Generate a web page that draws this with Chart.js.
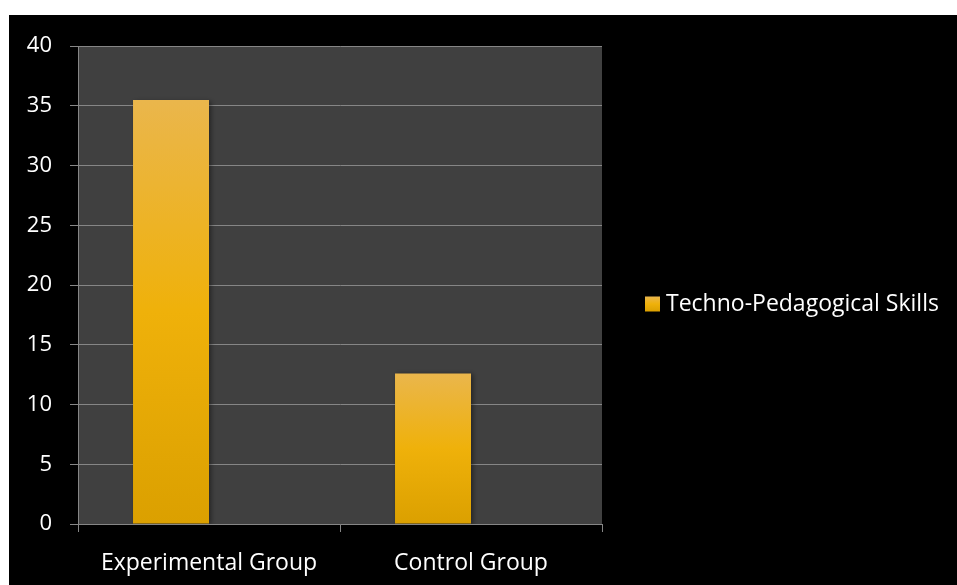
<!DOCTYPE html>
<html>
<head>
<meta charset="utf-8">
<script src="https://cdn.jsdelivr.net/npm/chart.js@4"></script>
<style>
  html, body { margin: 0; padding: 0; background: #ffffff; }
  #wrap { position: absolute; left: 9px; top: 15px; width: 948px; height: 570px; background: #000000; }
  canvas { display: block; }
</style>
</head>
<body>
<div id="wrap"><canvas id="c" width="948" height="570"></canvas></div>
<script>
const categories = ['Experimental Group', 'Control Group'];
const seriesLabel = 'Techno-Pedagogical Skills';
const skillValues = [35.5, 12.6];
const emptySeries = [0, 0];
const yTicks = [0, 5, 10, 15, 20, 25, 30, 35, 40];

const FONT = "'Open Sans', 'DejaVu Sans', sans-serif";
const FONT_SIZE = 23;
const Y_FONT_SIZE = 22;
const GRID = '#868686';

function makeGradient(c, top, bottom) {
  const g = c.createLinearGradient(0, top, 0, bottom);
  g.addColorStop(0, '#EAB64C');
  g.addColorStop(0.5, '#EFB10A');
  g.addColorStop(1, '#DBA000');
  return g;
}

function barGradient(ctx) {
  const chart = ctx.chart;
  const y = chart.scales && chart.scales.y;
  if (!y || ctx.parsed === undefined || !chart.chartArea) return '#EEB000';
  return makeGradient(chart.ctx, y.getPixelForValue(ctx.parsed.y), y.getPixelForValue(0));
}

const plotBg = {
  id: 'plotBg',
  beforeDraw(chart) {
    const { ctx, chartArea: a } = chart;
    ctx.save();
    ctx.fillStyle = '#404040';
    ctx.fillRect(a.left, a.top, a.right - a.left, a.bottom - a.top);
    ctx.restore();
  }
};

const barShadow = {
  id: 'barShadow',
  beforeDatasetDraw(chart) {
    const ctx = chart.ctx;
    ctx.save();
    ctx.shadowColor = 'rgba(0,0,0,0.45)';
    ctx.shadowBlur = 5;
    ctx.shadowOffsetX = 2;
    ctx.shadowOffsetY = 1;
  },
  afterDatasetDraw(chart) {
    chart.ctx.restore();
  }
};

const sideLegend = {
  id: 'sideLegend',
  afterDraw(chart) {
    const ctx = chart.ctx;
    const a = chart.chartArea;
    const label = chart.data.datasets[0].label;
    const box = 15;
    const x = a.right + 43;
    const cy = chart.height / 2 + 4;
    ctx.save();
    ctx.fillStyle = makeGradient(ctx, cy - box / 2, cy + box / 2);
    ctx.fillRect(x, cy - box / 2, box, box);
    ctx.fillStyle = '#ffffff';
    ctx.font = FONT_SIZE + 'px ' + FONT;
    ctx.textBaseline = 'middle';
    ctx.textAlign = 'left';
    ctx.fillText(label, x + box + 6, cy);
    ctx.restore();
  }
};

new Chart(document.getElementById('c'), {
  type: 'bar',
  data: {
    labels: categories,
    datasets: [
      { label: seriesLabel, data: skillValues, backgroundColor: barGradient, borderWidth: 0 },
      { label: '', data: emptySeries, backgroundColor: 'rgba(0,0,0,0)', borderWidth: 0 }
    ]
  },
  options: {
    responsive: false,
    animation: false,
    devicePixelRatio: 1,
    categoryPercentage: 0.58,
    barPercentage: 1.0,
    layout: { padding: { top: 30, right: 355, bottom: 0, left: 0 } },
    plugins: {
      tooltip: { enabled: false },
      legend: { display: false }
    },
    scales: {
      x: {
        afterFit(scale) { scale.height = 61; },
        grid: { drawOnChartArea: false, drawTicks: true, tickLength: 8, color: GRID, lineWidth: 1 },
        border: { display: true, color: GRID, width: 1 },
        ticks: { color: '#ffffff', font: { family: FONT, size: FONT_SIZE }, padding: 18, maxRotation: 0 }
      },
      y: {
        min: 0,
        max: 40,
        afterFit(scale) { scale.width = 69; },
        afterBuildTicks(scale) { scale.ticks = yTicks.map(v => ({ value: v })); },
        grid: { color: GRID, lineWidth: 1, drawTicks: true, tickLength: 8 },
        border: { display: true, color: GRID, width: 1 },
        ticks: { color: '#ffffff', font: { family: FONT, size: Y_FONT_SIZE }, padding: 18 }
      }
    }
  },
  plugins: [plotBg, barShadow, sideLegend]
});
</script>
</body>
</html>
